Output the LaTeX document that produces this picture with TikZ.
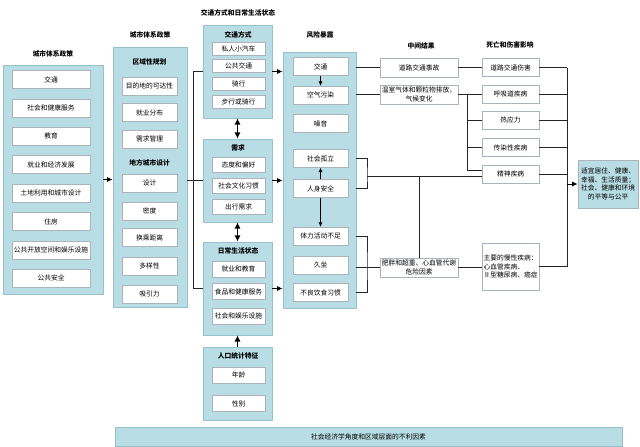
\documentclass[tikz,border=0pt]{standalone}
\usepackage{fontspec}
\setmainfont{Noto Sans CJK SC}
\usepackage{xcolor}
\usetikzlibrary{arrows.meta, positioning, calc}
\definecolor{boxfill}{RGB}{185,221,229}
\definecolor{boxline}{RGB}{150,192,204}
\definecolor{itemline}{RGB}{170,180,186}

\begin{document}
\begin{tikzpicture}[x=0.025cm, y=-0.025cm,
  every node/.style={font=\fontsize{4.8}{6}\selectfont},
  panel/.style={draw=boxline, fill=boxfill, inner sep=0pt},
  item/.style={draw=itemline, fill=white, inner sep=1pt, align=center},
  head/.style={font=\fontsize{4.8}{6}\selectfont\bfseries},
  link/.style={line width=0.6pt, draw=black!85},
  arr/.style={line width=0.6pt, -{Latex[length=4pt,width=3.5pt]}},
  sarr/.style={line width=0.5pt, -{Latex[length=3pt,width=3pt]}},
  bigarr/.style={line width=1.1pt, -{Latex[length=4.5pt,width=4.5pt]}},
  dbl/.style={line width=1.1pt, {Latex[length=4.5pt,width=4.5pt]}-{Latex[length=4.5pt,width=4.5pt]}}]
  \useasboundingbox (0,0) rectangle (640,447);

  % city policies
  \node[head] (t1) at (53,54) {城市体系政策};
  \node[panel, minimum width=2.5cm, minimum height=5.725cm] (pol) at (53,179.5) {};
  \foreach \txt [count=\i] in {交通, 社会和健康服务, 教育, 就业和经济发展, 土地利用和城市设计, 住房, 公共开放空间和娱乐设施, 公共安全}
    \node[item, minimum width=1.95cm, minimum height=0.45cm] (p\i) at (51,{79.5+28.4*(\i-1)}) {\txt};

  % regional and local planning
  \node[head] (t2) at (150,35) {城市体系政策};
  \node[panel, minimum width=1.85cm, minimum height=6.5cm] (reg) at (150,177) {};
  \node[head] (h21) at (149.5,62) {区域性规划};
  \foreach \yy/\txt [count=\i] in {86/目的地的可达性, 112.5/就业分布, 139/需求管理}
    \node[item, minimum width=1.375cm, minimum height=0.45cm] (ra\i) at (149.5,\yy) {\txt};
  \node[head] (h22) at (149.5,163) {地方城市设计};
  \foreach \yy/\txt [count=\i] in {183/设计, 211/密度, 237.5/换乘距离, 266/多样性, 294/吸引力}
    \node[item, minimum width=1.375cm, minimum height=0.45cm] (rb\i) at (149.5,\yy) {\txt};

  % travel and daily living
  \node[head] (t3) at (238,13) {交通方式和日常生活状态};
  \node[panel, minimum width=1.725cm, minimum height=2.325cm] (trans) at (237.5,71.5) {};
  \node[head] (h31) at (238,35) {交通方式};
  \foreach \yy/\txt [count=\i] in {48.5/私人小汽车, 66/公共交通, 84/骑行, 101.5/步行或骑行}
    \node[item, minimum width=1.325cm, minimum height=0.325cm] (tr\i) at (238.5,\yy) {\txt};

  \node[panel, minimum width=1.725cm, minimum height=2.075cm] (need) at (237.5,180.5) {};
  \node[head] (h32) at (238,148) {需求};
  \foreach \yy/\txt [count=\i] in {164.5/态度和偏好, 185.5/社会文化习惯, 207/出行需求}
    \node[item, minimum width=1.325cm, minimum height=0.375cm] (nd\i) at (238.5,\yy) {\txt};

  \node[panel, minimum width=1.725cm, minimum height=2.325cm] (daily) at (237.5,288.5) {};
  \node[head] (h33) at (238,251) {日常生活状态};
  \foreach \yy/\txt [count=\i] in {269/就业和教育, 291.5/食品和健康服务, 316/社会和娱乐设施}
    \node[item, minimum width=1.325cm, minimum height=0.4cm] (dl\i) at (238.5,\yy) {\txt};

  \node[panel, minimum width=1.725cm, minimum height=1.825cm] (demo) at (237.5,383.5) {};
  \node[head] (h34) at (238,356) {人口统计特征};
  \foreach \yy/\txt [count=\i] in {375/年龄, 403.5/性别}
    \node[item, minimum width=1.325cm, minimum height=0.41cm] (dm\i) at (238.5,\yy) {\txt};

  % exposures
  \node[head] (t4) at (320,35) {风险暴露};
  \node[panel, minimum width=1.825cm, minimum height=6.4cm] (risk) at (319.5,180) {};
  \foreach \yy/\txt [count=\i] in {66.5/交通, 95/空气污染, 123.5/噪音, 158.5/社会孤立, 188.5/人身安全, 236/体力活动不足, 265/久坐, 292.5/不良饮食习惯}
    \node[item, minimum width=1.375cm, minimum height=0.45cm] (r\i) at (320.5,\yy) {\txt};

  % intermediate outcomes
  \node[head] (t5) at (421,46) {中间结果};
  \node[item, minimum width=1.95cm, minimum height=0.475cm] (m1) at (419,67.5) {道路交通事故};
  \node[item, minimum width=1.95cm, minimum height=0.475cm, inner sep=0.5pt] (m2) at (419,94.5) {温室气体和颗粒物排放，\\气候变化};
  \node[item, minimum width=1.95cm, minimum height=0.475cm, inner sep=0.5pt] (m3) at (419,267.5) {肥胖和超重、心血管代谢\\危险因素};

  % mortality and morbidity
  \node[head] (t6) at (510,45) {死亡和伤害影响};
  \foreach \yy/\txt [count=\i] in {67.5/道路交通伤害, 94/呼吸道疾病, 120/热应力, 147.5/传染性疾病, 174/精神疾病}
    \node[item, minimum width=1.425cm, minimum height=0.45cm] (d\i) at (510.5,\yy) {\txt};
  \node[item, align=left, minimum width=1.425cm, minimum height=1.175cm] (d6) at (510.5,266.5) {主要的慢性疾病：\\心血管疾病、\\Ⅱ型糖尿病、癌症};

  \node[draw=itemline, fill=boxfill, inner sep=1pt, align=center, minimum width=1.5cm, minimum height=1.2cm] (goal) at (608,184) {适宜居住、健康、\\幸福、生活质量；\\社会、健康和环境\\的平等与公平};

  \node[panel, minimum width=12.675cm, minimum height=0.475cm] (ses) at (368.5,436.5) {社会经济学角度和区域层面的不利因素};

  % connectors
  \draw[arr] (pol.east) -- (pol.east -| reg.west);
  \coordinate (jn) at (193,180.5);
  \draw[link] (reg.east |- need.west) -- (need.west);
  \draw[link] (trans.west) -- (trans.west -| jn) -- (daily.west -| jn) -- (daily.west);
  \foreach \b in {trans, need, daily}
    \draw[arr] (\b.east) -- (\b.east -| risk.west);
  \draw[dbl] (trans.south) -- (need.north);
  \draw[dbl] (need.south) -- (daily.north);
  \draw[bigarr] (demo.north) -- (daily.south);

  \draw[sarr] (r1.south) -- (r2.north);
  \draw[sarr] (r5.north) -- (r4.south);
  \draw[sarr] (r5.south) -- (r6.north);

  \draw[link] (m1.west -| risk.east) -- (m1.west);
  \draw[link] (m2.west -| risk.east) -- (m2.west);
  \coordinate (bu) at (367,176);
  \draw[link] (risk.east |- r4) -| (bu) |- (risk.east |- r5);
  \draw[link] (bu) -- (bu -| d5.west);
  \draw[link] (m3.north |- bu) -- (m3.north);
  \coordinate (bl) at (367,267.5);
  \draw[link] (risk.east |- r6) -| (bl) |- (risk.east |- r8);
  \draw[link] (m3.west -| risk.east) -- (m3.west);

  \draw[link] (m1.east) -- (m1.east -| d1.west);
  \draw[link] (m2.east) -- (m2.east -| d2.west);
  \coordinate (gb) at (467,170);
  \draw[link] (gb |- m2.east) -- (gb) -- (gb -| d5.west);
  \foreach \d in {d3, d4}
    \draw[link] (gb |- \d) -- (\d.west);
  \draw[link] (m3.east) -- (m3.east -| d6.west);

  \coordinate (ob) at (567,184);
  \foreach \d in {d1, d2, d3, d4, d5, d6}
    \draw[link] (\d.east) -- (\d.east -| ob);
  \draw[link] (ob |- d1) -- (ob |- d6);
  \draw[arr] (ob) -- (goal.west);
\end{tikzpicture}
\end{document}
